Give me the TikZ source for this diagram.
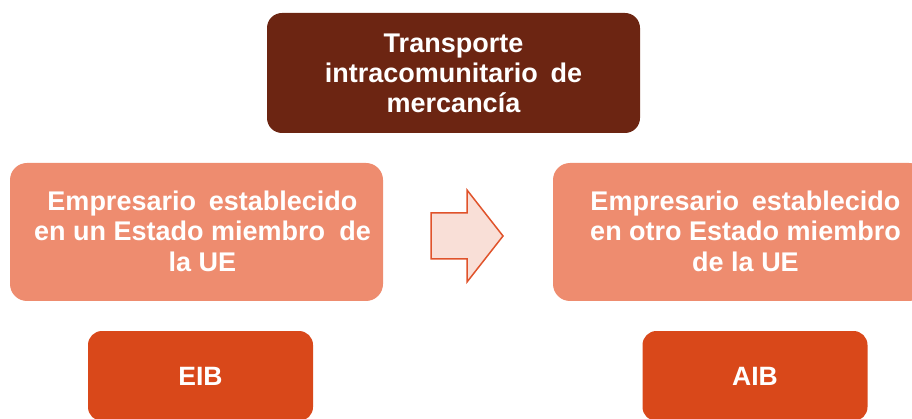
\documentclass[tikz,border=0pt]{standalone}
\usepackage{fontspec}
\setmainfont{Liberation Sans}
\usepackage{tikz}
\usetikzlibrary{calc}

\definecolor{marron}{HTML}{6C2512}
\definecolor{salmon}{HTML}{EE8C6F}
\definecolor{naranja}{HTML}{D9481A}
\definecolor{rosa}{HTML}{F9DFD7}
\definecolor{borde}{HTML}{E0532B}

\begin{document}
\begin{tikzpicture}[x=1pt,y=-1pt,
    caja/.style={rectangle, rounded corners=17pt, inner sep=0pt, align=center,
      text=white, font=\bfseries, minimum width=373pt},
    cajatop/.style={caja, fill=marron, minimum height=120pt, rounded corners=15pt,
      font=\bfseries\fontsize{27}{30}\selectfont},
    cajamid/.style={caja, fill=salmon, minimum height=138pt},
    textomid/.style={inner sep=0pt, align=center, text=white,
      font=\bfseries\fontsize{27}{30.5}\selectfont},
    cajabot/.style={caja, fill=naranja, minimum width=225pt, minimum height=90pt,
      rounded corners=14pt, font=\bfseries\fontsize{26.5}{30}\selectfont}]
    \useasboundingbox (0,0) rectangle (912,419);
    \clip (0,0) rectangle (912,419);

    \node[cajatop] (transporte) at (453.5,73) {Transporte\\intracomunitario\hspace{0.2em} de\\mercancía};
    \node[cajamid] (origen) at (196.5,232) {};
    \node[textomid] (origentxt) at ([xshift=6pt,yshift=1pt]origen.center) {Empresario\hspace{0.2em} establecido\\en un Estado miembro\hspace{0.25em} de\\la UE};
    \node[cajamid] (destino) at (739.5,232) {};
    \node[textomid] (destinotxt) at ([xshift=6pt,yshift=1pt]destino.center) {Empresario\hspace{0.2em} establecido\\en otro Estado miembro\\de la UE};
    \node[cajabot] (eib) at (200.5,376) {EIB};
    \node[cajabot] (aib) at (755,376) {AIB};

    % flecha entre los dos empresarios
    \draw[borde, fill=rosa, line width=1.5pt, line join=miter]
      (431,213) -- (467,213) -- (467,190) -- (503,236) -- (467,282)
      -- (467,259) -- (431,259) -- cycle;
\end{tikzpicture}
\end{document}
